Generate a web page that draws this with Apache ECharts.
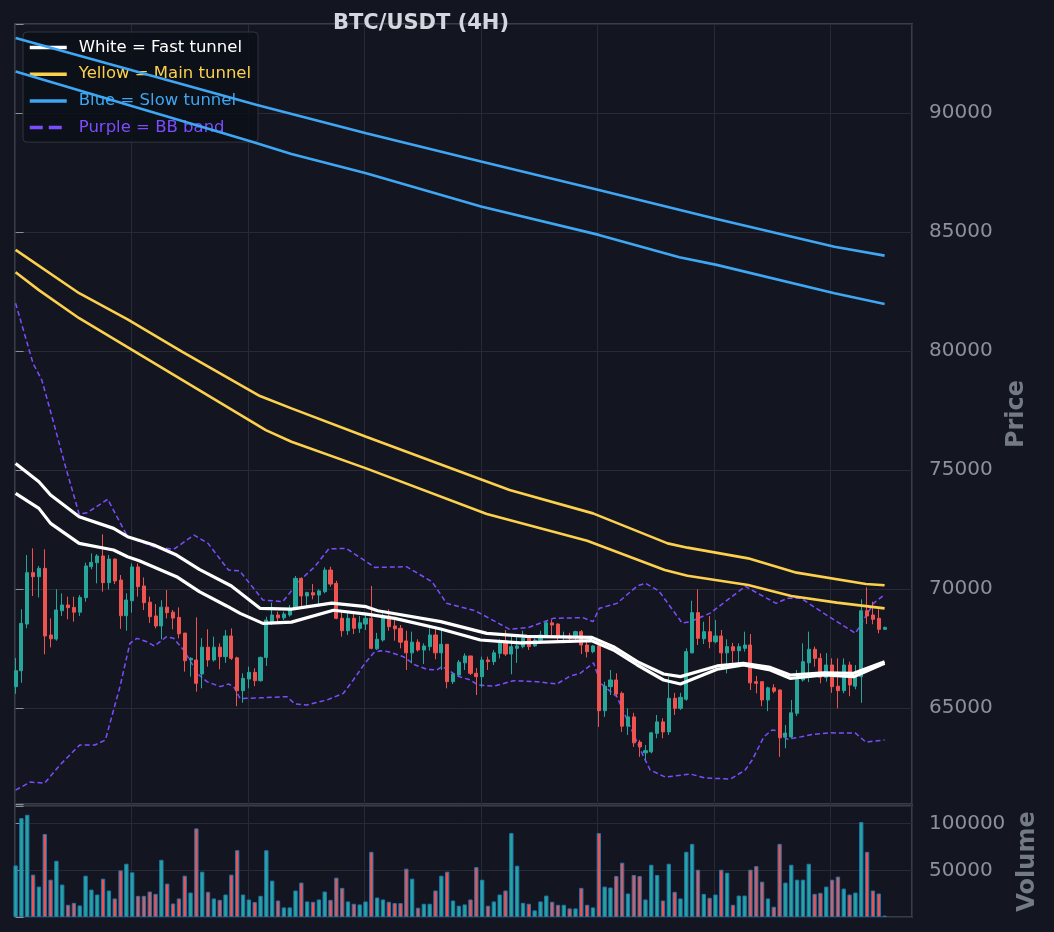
<!DOCTYPE html>
<html>
<head>
<meta charset="utf-8">
<title>BTC/USDT (4H)</title>
<script src="https://cdn.jsdelivr.net/npm/echarts@6/dist/echarts.min.js"></script>
<style>
  html, body { margin: 0; padding: 0; background: #131621; }
  #chart { width: 1054px; height: 932px; }
</style>
</head>
<body>
<div id="chart"></div>
<script>
// candle values, one entry per 4h bar (index 0..149)
var opens = [65900,66570,68530,70690,70520,70870,68070,67900,69090,69330,69230,69030,69640,70940,71110,71390,70270,71260,70380,68880,
  69510,70930,70130,69450,68870,68450,69240,69030,68810,68150,67020,67020,66430,67560,67020,67560,67160,68030,67110,65730,
  66220,66500,66150,67130,68630,68910,68790,68910,69190,70450,69710,69850,69750,69890,70800,70240,68770,68250,68770,68350,
  68530,68770,67490,67860,68870,68450,68350,67820,67320,67770,67440,67580,68070,67320,67680,66110,66390,66900,67190,66460,
  66320,67020,66950,67300,67820,67270,67510,67580,67930,67610,67830,68030,68580,68530,67970,68030,67970,68210,67650,67370,
  67610,64890,65900,66180,65620,64240,64630,63570,63120,63160,63940,64420,64000,65410,64990,65370,67320,69010,67910,68210,
  67790,68030,67320,67580,67410,67510,67650,66110,66110,65340,65850,65760,63780,63790,64780,66180,66900,67470,67090,66290,
  66810,65920,65730,66810,65920,66320,69090,68910,68770,68310];
var closes = [66570,68560,70690,70520,70870,68030,67910,69120,69330,69220,69030,69650,70970,71120,71390,70270,71260,70340,68880,69540,
  70930,70100,69430,68840,68450,69240,69010,68780,68120,66990,67090,66040,67560,67020,67560,67160,68030,67090,65730,66250,
  66500,66150,67130,68700,68910,68790,68950,69190,70450,69710,69850,69750,69920,70800,70210,68770,68250,68770,68350,68580,
  68770,67510,67890,68870,68420,68330,67770,67320,67770,67440,67610,68070,67320,67680,66110,66430,66930,67190,66460,66320,
  67020,66950,67320,67740,67270,67580,67610,67930,67580,67860,68070,68580,68490,67970,68030,67930,68210,67650,67370,67610,
  64890,65920,66180,65590,64240,64630,63540,63370,63210,63960,64420,64000,65410,64990,65450,67370,69010,67930,68210,67790,
  68030,67320,67580,67410,67580,67650,66060,66040,65340,65850,65710,63750,63950,64800,66210,66950,67470,67090,66290,66810,
  65900,65730,66810,65970,66320,69090,68870,68730,68310,68390];
var lows = [65600,66060,68350,69710,69650,67260,67550,67830,68870,68730,68630,68870,69470,70830,70240,69890,69990,70210,68330,68250,
  69010,69680,69120,68580,68350,67890,68770,68310,67930,66530,66320,65690,65830,66740,66950,66630,66900,67020,65080,65220,
  65830,65920,66110,66770,68490,68630,68700,68840,69120,69260,69290,69570,69260,69820,70100,68730,68000,68070,68110,68160,
  68280,67470,67440,67790,68250,67830,67510,66600,66880,67370,66850,67410,67050,66600,65830,66010,66320,66600,66390,65550,
  65870,66600,66810,67090,67190,66420,66900,67510,67440,67580,67720,67970,68070,67860,67720,67740,67830,67270,67130,67300,
  64210,64630,65550,65480,64000,63870,63370,62950,62820,63100,63730,63730,63870,64710,64920,65310,67300,67650,67690,67510,
  67720,66810,66460,66900,66900,67370,65760,65620,65080,64870,65620,62950,63310,63730,64660,66110,66090,66740,66040,66110,
  65640,64990,65620,65500,65790,65220,68530,68520,68140,68280];
var highs = [67100,69150,71430,71710,70970,71670,68770,69990,69820,69680,69680,69750,71110,71500,71470,72300,71430,71290,70590,69820,
  71080,71080,70490,69680,69370,69530,69960,69120,69230,68160,67140,68810,67940,68310,68000,67720,68280,68350,67160,66460,
  66740,66670,67160,68840,69430,69050,69050,69330,70550,70490,69890,70210,69990,70910,70940,70350,69120,69010,68980,68870,
  68910,70130,68160,68980,69150,68700,68490,68250,68210,67890,67720,68350,68420,68280,67690,66480,67020,67300,67190,66680,
  67160,67160,67440,67890,68280,68100,68000,68250,68070,68000,68250,68670,68700,68560,68210,68160,68250,68280,67790,67650,
  67790,66110,66600,66460,65690,64990,64800,63660,63450,64000,64710,64570,66320,65640,65640,67510,69510,69990,68630,68870,
  68700,68280,67890,67740,67720,68210,68110,66350,66110,65900,66000,65790,64290,65340,66600,67720,68210,67580,67300,67310,
  67090,67090,67090,66950,66810,69570,70070,69470,69150,68420];
var volumes = [55300,106000,109600,45400,32600,89000,40000,60300,34800,13100,15200,12400,44300,29400,24100,41100,28400,19900,50000,57100,
  47900,22700,22700,27300,24800,61300,35800,14500,19900,44300,26200,95000,48600,27000,19900,18400,24100,45400,71600,24100,
  18800,16000,22700,71600,39000,17700,10300,10300,28400,36900,16700,16300,18800,27300,18400,42200,31200,16700,14200,13500,
  16700,69900,20900,18800,16300,14900,14900,51800,41100,9900,14200,14200,28400,44300,48600,17700,12100,13500,18800,53500,
  40000,12100,16700,24100,28400,90000,55000,15200,14200,7100,16700,23000,16300,13100,13100,9200,9200,31200,13100,10300,
  90000,32600,31600,44000,58200,25200,45000,44000,18800,56000,45000,17700,57100,27000,19900,69900,78400,50700,24800,20600,
  24100,50700,47500,13100,23000,23000,50700,54600,37900,19900,11000,78400,36900,56000,40000,40000,57100,24800,25900,32600,
  40000,43300,30500,24100,26200,101800,69900,28400,25200,1500];

// tunnel and band vertices: [bar index, price]
var fastUpper = [[0,75280],[4,74510],[6,73950],[10.9,73040],[16.8,72550],[19.2,72200],[23.7,71850],[27.6,71430],[31.5,70830],[37,70130],
  [41.9,69190],[47.3,69160],[54.2,69410],[60.1,69260],[62.1,69090],[72.9,68630],[80.8,68140],[87.7,68010],[98.8,67970],[102.5,67580],
  [106.6,66950],[111.1,66430],[114,66320],[120.3,66770],[124.8,66880],[129.4,66710],[132.8,66390],[138.6,66480],[143.7,66460],[149,66950]];
var fastLower = [[0,74020],[4,73390],[6,72760],[10.9,71920],[16.8,71640],[19.2,71360],[21.2,71190],[27.6,70520],[31.5,69890],[36.2,69290],
  [38.5,68980],[42.4,68560],[47.3,68610],[54.5,69110],[60.2,68950],[65,68770],[72.9,68320],[79.7,67860],[86.5,67740],[98.8,67830],
  [102.5,67440],[106.6,66810],[111.1,66180],[114,66010],[120.3,66630],[124.8,66810],[129.4,66600],[132.8,66250],[138.6,66390],[143.7,66320],[149,66880]];
var mainUpper = [[0,84250],[10.9,82430],[19.2,81330],[28.6,79970],[41.9,78110],[47.3,77590],[60.1,76400],[84.7,74160],[99,73180],
  [111.8,71920],[115.2,71740],[125.6,71290],[133.9,70690],[145.8,70210],[149,70160]];
var mainLower = [[0,83310],[4,82560],[10.9,81380],[42.9,76680],[47.3,76190],[60.1,75070],[80.8,73150],[98,72030],[111.3,70800],
  [115.2,70560],[125.6,70170],[133,69710],[140.8,69430],[149,69190]];
var slowUpper = [[0,93150],[41.4,90340],[60.1,89150],[79.8,87960],[100,86770],[120.2,85550],[140.4,84380],[149,84010]];
var slowLower = [[0,91740],[40.4,88800],[47.3,88280],[60.1,87470],[79.8,86070],[100,84880],[113.8,83940],[120.2,83620],[140.4,82430],[149,81980]];
var bbUpper = [[0,82010],[3,79480],[4.5,78780],[6.4,77100],[8.4,75280],[10.9,73150],[12.3,73210],[15.8,73770],[19.2,72200],[23.7,71780],
  [27.1,71670],[30.6,72270],[33,71920],[36.5,70800],[38.4,70770],[42.4,69540],[45.8,69470],[48.8,70380],[51.3,70940],[53.7,71690],
  [56.7,71710],[61.6,70910],[67,70940],[71.4,70310],[73.9,69400],[78.8,69090],[84.7,68310],[87.9,68380],[92.2,68770],[97.3,68800],
  [99,68630],[100.1,69190],[103.1,69400],[106.6,70130],[108,70240],[110.3,69920],[114.3,68570],[115.7,68630],[119.1,68990],[125.1,70110],
  [130.4,69400],[132.3,69610],[134.7,69610],[138.6,68980],[144,68140],[147.1,69400],[149,69770]];
var bbLower = [[0,61550],[2.5,61890],[5,61850],[7.6,62610],[11,63450],[13.6,63450],[15.4,63660],[16.8,64920],[17.9,65900],[19.6,67720],
  [20.8,67930],[22.5,67790],[23.8,67610],[25.9,68000],[27.1,67930],[28.8,67440],[30.2,66880],[31.1,66460],[32.8,66110],[35.1,65900],
  [36.5,66010],[37.4,65900],[38.5,65400],[41.9,65430],[46.5,65480],[47.9,65170],[49.9,65130],[53.4,65340],[56.2,65620],[57.9,66180],
  [59.9,66880],[61.4,67320],[62.5,67410],[63.9,67370],[66.5,67160],[68.5,66810],[70.5,66630],[72.2,66600],[73.1,66740],[74.2,66600],
  [75.7,66350],[78,66180],[79.3,65970],[82,65920],[85.4,66150],[89.4,66110],[92.8,66010],[95.1,66350],[96.8,66460],[99.1,66900],
  [100.3,66040],[103.1,65480],[105.4,64210],[107.7,62950],[108.8,62400],[111.4,62100],[115.7,62230],[118.3,62060],[122.6,62020],[125.1,62400],
  [126.3,62820],[128.3,63790],[129.7,64080],[130.6,64050],[132.3,63690],[134.6,63790],[136.8,63900],[139.7,63960],[144,63950],[145.8,63570],[149,63660]];

var UP = '#26a69a', DOWN = '#ef5350';
var FONT = 'DejaVu Sans';
var LABEL = '#8b919c';

var candles = [], vols = [];
for (var i = 0; i < opens.length; i++) {
  candles.push([i, opens[i], closes[i], lows[i], highs[i]]);
  vols.push({value: [i, volumes[i]], itemStyle: {color: closes[i] >= opens[i] ? UP : DOWN}});
}

function onlyMultiples(step) {
  return function (v) { return (v > 0 && v % step === 0) ? String(v) : ''; };
}

function tunnel(name, data, color, width, dashed) {
  return {
    name: name, type: 'line', xAxisIndex: 0, yAxisIndex: 0, data: data,
    symbol: 'none', showSymbol: false, z: dashed ? 2 : 4, clip: true,
    itemStyle: {color: color},
    lineStyle: {color: color, width: width, type: dashed ? [5, 3] : 'solid'}
  };
}

var chart = echarts.init(document.getElementById('chart'));
var option = {
  backgroundColor: '#131621',
  animation: false,
  title: {
    text: 'BTC/USDT (4H)', left: 333, top: 13, padding: 0,
    textStyle: {color: '#d3d7df', fontSize: 21, fontWeight: 'bold', fontFamily: FONT}
  },
  legend: {
    orient: 'vertical', left: 23, top: 32,
    padding: [7, 7, 6, 5], itemGap: 9.7, itemWidth: 37, itemHeight: 14,
    backgroundColor: 'rgba(12,15,22,0.85)', borderColor: '#30353f', borderWidth: 1, borderRadius: 4,
    itemStyle: {opacity: 0},
    lineStyle: {width: 3.5},
    textStyle: {fontSize: 16.5, fontFamily: FONT, padding: [0, 0, 0, 7]},
    data: [
      {name: 'White = Fast tunnel', textStyle: {color: '#ffffff'}},
      {name: 'Yellow = Main tunnel', textStyle: {color: '#fcd04d'}},
      {name: 'Blue = Slow tunnel', textStyle: {color: '#3ea6f2'}},
      {name: 'Purple = BB band', textStyle: {color: '#7c4dff'}, lineStyle: {width: 3.5, type: [13, 6]}}
    ]
  },
  grid: [
    {left: 15, right: 142, top: 24, height: 780, show: true, borderColor: '#383d48', borderWidth: 2, backgroundColor: 'transparent'},
    {left: 15, right: 142, top: 806, height: 111, show: true, borderColor: '#383d48', borderWidth: 2, backgroundColor: 'transparent'}
  ],
  xAxis: [
    {type: 'value', gridIndex: 0, min: -0.1, max: 153.7, show: false},
    {type: 'value', gridIndex: 0, min: 0, max: 154, interval: 20,
      axisLine: {show: false}, axisTick: {show: false}, axisLabel: {show: false},
      splitLine: {show: true, lineStyle: {color: '#262b36', width: 1}}},
    {type: 'value', gridIndex: 1, min: -0.1, max: 153.7, show: false},
    {type: 'value', gridIndex: 1, min: 0, max: 154, interval: 20,
      axisLine: {show: false}, axisTick: {show: false}, axisLabel: {show: false},
      splitLine: {show: true, lineStyle: {color: '#262b36', width: 1}}}
  ],
  yAxis: [
    {type: 'value', gridIndex: 0, position: 'right', min: 60970, max: 93740, splitNumber: 6, scale: true,
      name: 'Price', nameLocation: 'middle', nameRotate: 90, nameGap: 93,
      nameTextStyle: {color: '#747a85', fontSize: 24, fontWeight: 'bold', fontFamily: FONT},
      axisLine: {show: false},
      axisTick: {show: true, length: 8, lineStyle: {color: LABEL}},
      axisLabel: {color: LABEL, fontSize: 20, fontFamily: FONT, margin: 17, formatter: onlyMultiples(5000)},
      splitLine: {show: true, lineStyle: {color: '#262b36', width: 1}}},
    {type: 'value', gridIndex: 1, position: 'right', min: 0, max: 119000, splitNumber: 2,
      name: 'Volume', nameLocation: 'middle', nameRotate: 90, nameGap: 103,
      nameTextStyle: {color: '#747a85', fontSize: 24, fontWeight: 'bold', fontFamily: FONT},
      axisLine: {show: false},
      axisTick: {show: true, length: 8, lineStyle: {color: LABEL}},
      axisLabel: {color: LABEL, fontSize: 20, fontFamily: FONT, margin: 17, formatter: onlyMultiples(50000)},
      splitLine: {show: true, lineStyle: {color: '#262b36', width: 1}}}
  ],
  series: [
    {
      type: 'candlestick', xAxisIndex: 0, yAxisIndex: 0, data: candles,
      barWidth: 3.6, z: 3, clip: true,
      itemStyle: {color: UP, color0: DOWN, borderColor: UP, borderColor0: DOWN, borderWidth: 1}
    },
    tunnel('Purple = BB band', bbUpper, '#7c4dff', 1.5, true),
    tunnel('Purple = BB band', bbLower, '#7c4dff', 1.5, true),
    tunnel('Blue = Slow tunnel', slowUpper, '#3ea6f2', 2.6, false),
    tunnel('Blue = Slow tunnel', slowLower, '#3ea6f2', 2.6, false),
    tunnel('Yellow = Main tunnel', mainUpper, '#fcd04d', 2.6, false),
    tunnel('Yellow = Main tunnel', mainLower, '#fcd04d', 2.6, false),
    tunnel('White = Fast tunnel', fastUpper, '#ffffff', 3.2, false),
    tunnel('White = Fast tunnel', fastLower, '#ffffff', 3.2, false),
    {
      type: 'bar', xAxisIndex: 2, yAxisIndex: 1, data: vols,
      barWidth: 4.3, clip: true,
      itemStyle: {borderColor: '#1f77b4', borderWidth: 1}
    }
  ]
};
chart.setOption(option);
</script>
</body>
</html>
